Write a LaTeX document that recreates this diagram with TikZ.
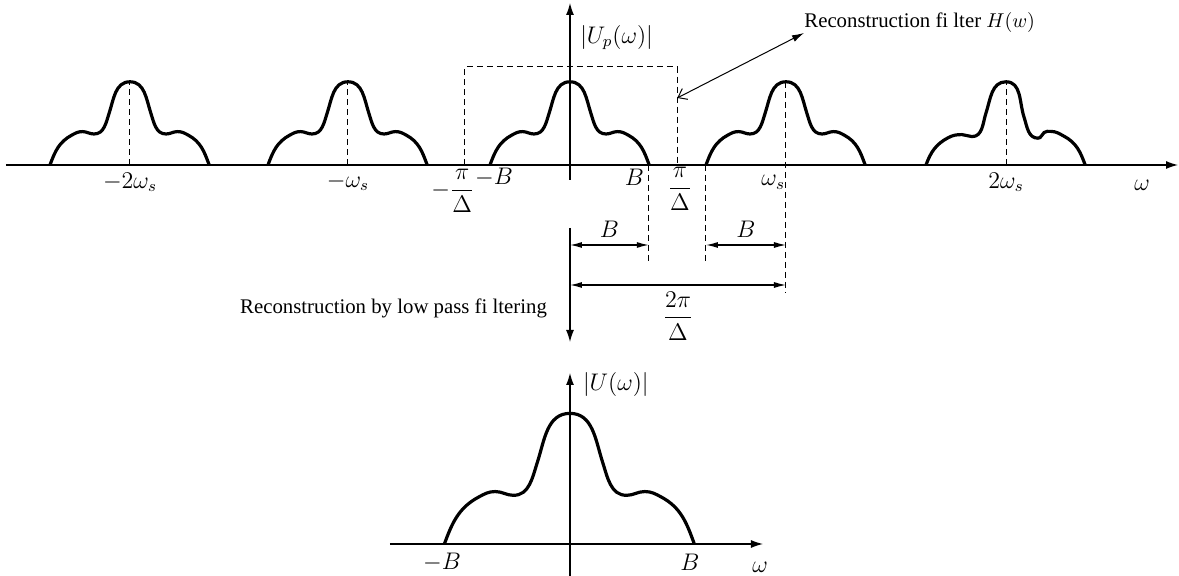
\documentclass[tikz,border=0pt]{standalone}
\usepackage{amsmath}
\usepackage{fontspec}
\setmainfont{Liberation Serif}
\usetikzlibrary{arrows.meta}

\begin{document}
\begin{tikzpicture}[x=20pt,y=20pt,>={Latex[length=6pt,width=4pt]},
 font=\fontsize{11.5}{13}\selectfont,
 spec/.style={line width=1.6pt,line join=round},
 ax/.style={line width=.6pt,->},
 guide/.style={line width=.5pt,dash pattern=on 3pt off 2pt},
 dim/.style={line width=.6pt,{Latex[length=6pt,width=3pt]}-{Latex[length=6pt,width=3pt]}},
 txt/.style={font=\fontsize{10.4}{12}\selectfont},
 pulse/.pic={\draw[spec] (-2,0) to[out=70,in=208] (-1.45,.75) to[out=28,in=180] (-1.19,.835)
  to[out=0,in=180] (-.9,.775) to[out=0,in=252] (-.52,1.3) to[out=72,in=180] (0,2.08)
  to[out=0,in=108] (.52,1.3) to[out=-72,in=180] (.9,.775) to[out=0,in=180] (1.19,.835)
  to[out=0,in=152] (1.45,.75) to[out=-28,in=110] (1.98,0);},
 pulsebump/.pic={\draw[spec] (-2,0) to[out=70,in=208] (-1.45,.68) to[out=28,in=180] (-1.1,.76)
  to[out=0,in=180] (-.85,.71) to[out=0,in=252] (-.5,1.3) to[out=72,in=180] (0,2.08)
  to[out=0,in=108] (.45,1.2) to[out=-72,in=180] (.8,.67) to[out=0,in=220] (.95,.81)
  to[out=40,in=180] (1.12,.84) to[out=0,in=152] (1.45,.72) to[out=-28,in=110] (1.98,0);}]
 \useasboundingbox (-14.25,-10.275) rectangle (15.225,4.125);

 % sampled spectrum
 \coordinate (wl) at (-14.1,0);
 \coordinate (wr) at (15.2,0);
 \coordinate (yb) at (0,-.375);
 \coordinate (yt) at (0,4.05);
 \draw[ax] (wl) -- (wr);
 \draw[ax] (yb) -- (yt);
 \node[anchor=west] (up) at (.08,3.19) {$|U_p(\omega)|$};
 \node (om) at (14.3,-.5) {$\omega$};

 \foreach \c in {-11,-5.55,0,5.4} \pic at (\c,0) {pulse};
 \pic at (10.9,0) {pulsebump};
 \foreach \c/\n in {-11/m2,-5.55/m1,10.9/p2}{
  \coordinate (ft\n) at (\c,0);
  \coordinate (pk\n) at (\c,2.08);
  \draw[guide] (ft\n) -- (pk\n);
 }
 \node (l2) at (-11,-.43) {$-2\omega_s$};
 \node (l1) at (-5.55,-.43) {$-\omega_s$};
 \node (r1) at (5.08,-.43) {$\omega_s$};
 \node (r2) at (10.9,-.43) {$2\omega_s$};
 \node (mb) at (-1.9,-.3) {$-B$};
 \node (pb) at (1.61,-.3) {$B$};
 \node (mpd) at (-2.93,-.65) {$-\dfrac{\pi}{\Delta}$};
 \node (ppd) at (2.75,-.6) {$\dfrac{\pi}{\Delta}$};

 % ideal low pass
 \coordinate (bl) at (-2.63,0);
 \coordinate (tr) at (2.68,2.45);
 \coordinate (hw) at (2.68,1.675);
 \draw[guide] (bl) rectangle (tr);
 \node[txt,anchor=south west,inner sep=0] (filt) at (5.85,3.3) {Reconstruction fi lter $H(w)$};
 \draw[line width=.5pt,{Straight Barb[length=4pt,width=6pt]}-{Latex[length=6pt,width=3.5pt]}] (hw) -- (filt.south west);

 % spacing
 \coordinate (bt) at (1.97,0);
 \coordinate (bb) at (1.97,-2.425);
 \coordinate (et) at (3.4,0);
 \coordinate (eb) at (3.4,-2.425);
 \coordinate (st) at (5.4,2.08);
 \coordinate (sb) at (5.4,-3.175);
 \draw[guide] (bt) -- (bb);
 \draw[guide] (et) -- (eb);
 \draw[guide] (st) -- (sb);
 \draw[dim] (0,-2) -- (1.97,-2) node[midway,above] (lb1) {$B$};
 \draw[dim] (3.4,-2) -- (5.4,-2) node[midway,above] (lb2) {$B$};
 \draw[dim] (0,-3) -- (5.4,-3) node[midway,below] (tp) {$\dfrac{2\pi}{\Delta}$};
 \coordinate (rt) at (0,-1.575);
 \coordinate (rb) at (0,-4.425);
 \draw[ax] (rt) -- (rb);
 \node[txt,anchor=east] (lp) at (-.4,-3.575) {Reconstruction by low pass fi ltering};

 % recovered spectrum
 \begin{scope}[shift={(0,-9.475)}]
  \coordinate (vl) at (-4.5,0);
  \coordinate (vr) at (4.825,0);
  \coordinate (vb) at (0,-.8);
  \coordinate (vt) at (0,4.275);
  \draw[ax] (vl) -- (vr);
  \draw[ax] (vb) -- (vt);
  \pic[scale=1.57] at (0,0) {pulse};
  \node[anchor=west] (u) at (.15,3.975) {$|U(\omega)|$};
  \node (lmb) at (-3.2,-.45) {$-B$};
  \node (lpb) at (3.0,-.45) {$B$};
  \node (lom) at (4.75,-.575) {$\omega$};
 \end{scope}
\end{tikzpicture}
\end{document}
